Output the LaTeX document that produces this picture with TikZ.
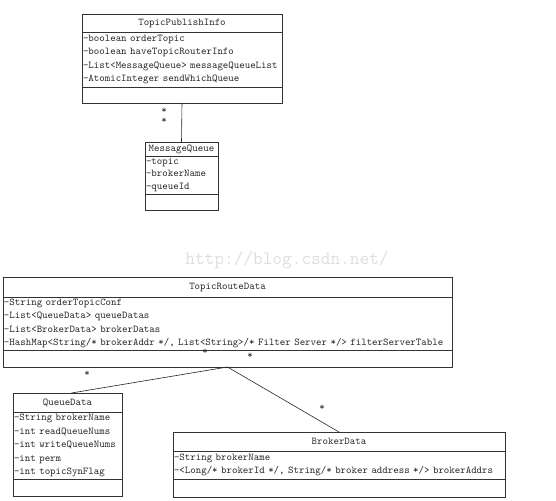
\documentclass[tikz,border=0pt]{standalone}
\usepackage{fontspec}
\usetikzlibrary{
    positioning          % For stacking the class compartments
}

\begin{document}
\begin{tikzpicture}[
    x=1pt, y=-1pt, % One unit is one pixel of the reference, y downward
    umlfont/.style={font=\fontsize{10.4}{13.5}\selectfont\ttfamily, text=black!85},
    box/.style={draw=black!80, line width=0.7pt, outer sep=0pt, umlfont},
    classtitle/.style={box, anchor=north, inner sep=1pt},           % Class name compartment
    classattr/.style={box, inner xsep=1pt, inner ysep=0pt, align=left}, % Attribute compartment
    classops/.style={box, inner sep=0pt},                           % Empty operation compartment
    assoc/.style={draw=black!85, line width=0.6pt},                 % Association lines
    mult/.style={umlfont, inner sep=0pt}                            % Multiplicity stars
]

    \useasboundingbox (0,0) rectangle (556,500);

    % Watermark
    \node[font=\fontsize{18.8}{20}\selectfont\ttfamily, text=black!13] (wmark) at (287,260) {http://blog.csdn.net/};

    % TopicPublishInfo
    \node[classtitle, minimum width=200pt, minimum height=18pt] (tpi) at (182,14) {TopicPublishInfo};
    \node[classattr, text width=198pt, minimum height=55pt, below=0pt of tpi] (tpiattr) {%
        -boolean orderTopic\\
        -boolean haveTopicRouterInfo\\
        -List<MessageQueue> messageQueueList\\
        -AtomicInteger sendWhichQueue};
    \node[classops, minimum width=200pt, minimum height=16pt, below=0pt of tpiattr] (tpiops) {};

    % MessageQueue
    \node[classtitle, minimum width=73pt, minimum height=14pt] (mq) at (181.5,142) {MessageQueue};
    \node[classattr, text width=71pt, minimum height=38pt, below=0pt of mq,
          font=\fontsize{10.4}{12.7}\selectfont\ttfamily] (mqattr) {%
        -topic\\
        -brokerName\\
        -queueId};
    \node[classops, minimum width=73pt, minimum height=16pt, below=0pt of mqattr] (mqops) {};

    \draw[assoc] (tpiops.south) -- (mq.north);
    \node[mult] (mqmulta) at (164,111) {*};
    \node[mult] (mqmultb) at (164,121) {*};

    % TopicRouteData
    \node[classtitle, minimum width=449pt, minimum height=20pt] (trd) at (227.5,277) {TopicRouteData};
    \node[classattr, text width=447pt, minimum height=53pt, below=0pt of trd] (trdattr) {%
        -String orderTopicConf\\
        -List<QueueData> queueDatas\\
        -List<BrokerData> brokerDatas\\
        -HashMap<String/* brokerAddr */, List<String>/* Filter Server */> filterServerTable};
    \node[classops, minimum width=449pt, minimum height=17pt, below=0pt of trdattr] (trdops) {};

    % QueueData
    \node[classtitle, minimum width=109pt, minimum height=19pt] (qd) at (67.5,393) {QueueData};
    \node[classattr, text width=107pt, minimum height=67pt, below=0pt of qd] (qdattr) {%
        -String brokerName\\
        -int readQueueNums\\
        -int writeQueueNums\\
        -int perm\\
        -int topicSynFlag};
    \node[classops, minimum width=109pt, minimum height=17pt, below=0pt of qdattr] (qdops) {};

    % BrokerData
    \node[classtitle, minimum width=332pt, minimum height=19pt] (bd) at (339,432) {BrokerData};
    \node[classattr, text width=330pt, minimum height=28pt, below=0pt of bd] (bdattr) {%
        -String brokerName\\
        -<Long/* brokerId */, String/* broker address */> brokerAddrs};
    \node[classops, minimum width=332pt, minimum height=18pt, below=0pt of bdattr] (bdops) {};

    % Associations from TopicRouteData
    \draw[assoc] (trdops.south) -- ([xshift=4pt]qd.north);
    \draw[assoc] (trdops.south) -- (bd.north);

    \node[mult] (trdmulta) at (205,352) {*};
    \node[mult] (trdmultb) at (250,356) {*};
    \node[mult] (qdmult) at (87,374) {*};
    \node[mult] (bdmult) at (322,408) {*};

\end{tikzpicture}
\end{document}
